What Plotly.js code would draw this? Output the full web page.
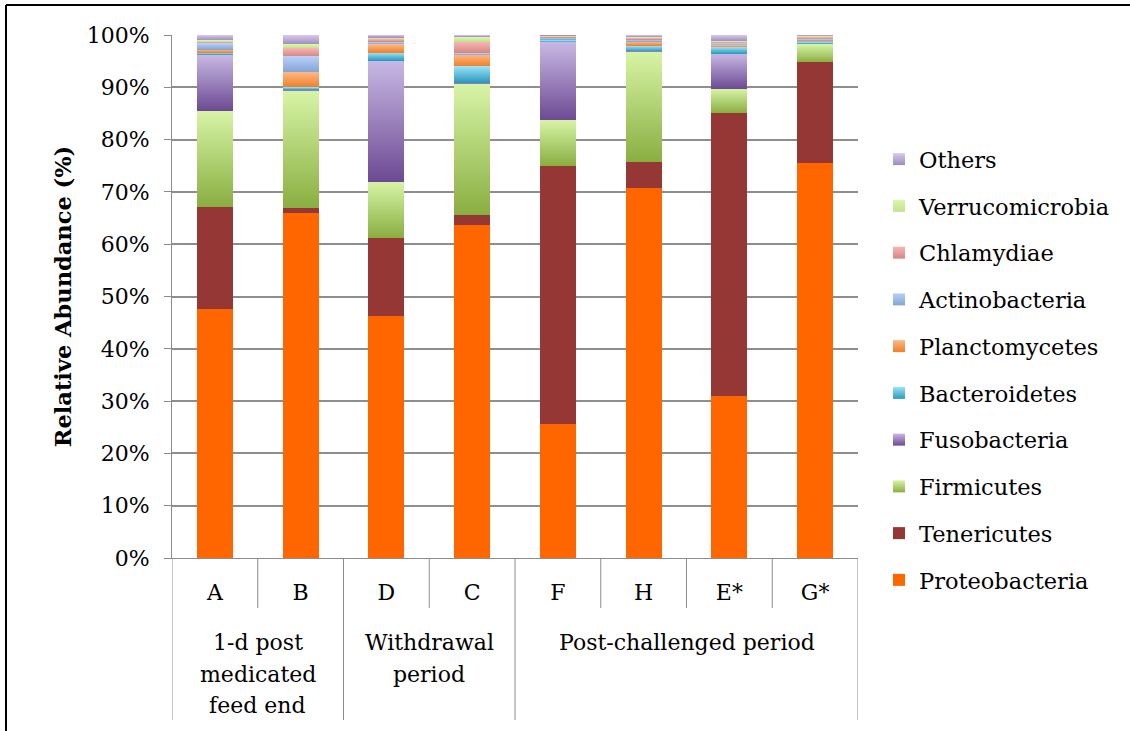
<!DOCTYPE html>
<html>
<head>
<meta charset="utf-8">
<script src="https://cdn.plot.ly/plotly-3.0.1.min.js"></script>
<style>
  html, body { margin: 0; padding: 0; background: #ffffff; }
  #chart { width: 1130px; height: 731px; }
</style>
</head>
<body>
<div id="chart"></div>
<script>
// Samples in plotting order
const samples = ['A', 'B', 'D', 'C', 'F', 'H', 'E*', 'G*'];

// Relative abundance of each phylum per sample (%)
const proteobacteria  = [47.6, 66.0, 46.3, 63.7, 25.6, 70.7, 31.0, 75.5];
const tenericutes     = [19.5,  0.9, 14.9,  1.9, 49.4,  5.0, 54.1, 19.3];
const firmicutes      = [18.4, 22.4, 10.7, 25.0,  8.7, 21.1,  4.6,  3.4];
const fusobacteria    = [10.7,  0.2, 23.2,  0.3, 14.9,  0.1,  6.7,  0.1];
const bacteroidetes   = [ 0.4,  0.5,  1.5,  3.1,  0.4,  1.0,  1.3,  0.3];
const planctomycetes  = [ 0.6,  2.9,  1.6,  2.2,  0.1,  0.8,  0.3,  0.3];
const actinobacteria  = [ 1.2,  3.0,  0.5,  0.3,  0.4,  0.4,  0.4,  0.3];
const chlamydiae      = [ 0.3,  1.6,  0.5,  2.2,  0.1,  0.3,  0.3,  0.4];
const verrucomicrobia = [ 0.3,  0.7,  0.3,  0.9,  0.3,  0.2,  0.1,  0.2];
const others          = [ 1.0,  1.8,  0.5,  0.4,  0.2,  0.4,  1.2,  0.3];

// Sampling periods (grouping of the samples on the x axis)
const periodLabels = [['1-d post', 'medicated', 'feed end'], ['Withdrawal', 'period'], ['Post-challenged period']];
const periodMembers = [['A', 'B'], ['D', 'C'], ['F', 'H', 'E*', 'G*']];

// Stack from bottom to top
const series = [
  { name: 'Proteobacteria',  y: proteobacteria,  color: '#FF6600', grad: null },
  { name: 'Tenericutes',     y: tenericutes,     color: '#953735', grad: null },
  { name: 'Firmicutes',      y: firmicutes,      color: '#B2D075', grad: ['#D7F4A6', '#8AAE41'] },
  { name: 'Fusobacteria',    y: fusobacteria,    color: '#9A80BA', grad: ['#C8B8E3', '#6C4A93'] },
  { name: 'Bacteroidetes',   y: bacteroidetes,   color: '#5FBCDB', grad: ['#9BE3F8', '#2B98BE'] },
  { name: 'Planctomycetes',  y: planctomycetes,  color: '#F79646', grad: ['#FDB886', '#EF7F27'] },
  { name: 'Actinobacteria',  y: actinobacteria,  color: '#9DB9E7', grad: ['#B7D0F9', '#84A4D4'] },
  { name: 'Chlamydiae',      y: chlamydiae,      color: '#E69C9A', grad: ['#F8B6B4', '#D68583'] },
  { name: 'Verrucomicrobia', y: verrucomicrobia, color: '#D0EDA0', grad: ['#DBF6AD', '#C3E28E'] },
  { name: 'Others',          y: others,          color: '#BBA8D6', grad: ['#D8C9F0', '#9F8CBA'] }
];

const FONT = 'DejaVu Serif, Liberation Serif, serif';
const FS = 22;

const traces = series.map((s, i) => ({
  type: 'bar',
  name: s.name,
  x: samples,
  y: s.y,
  legendgroup: 'g' + i,
  legendrank: series.length - i,   // top of the stack listed first
  marker: { color: s.color, line: { width: 0 } },
  hoverinfo: 'x+y+name'
}));

// Plot area geometry (pixels) used for the decorations around the axis
const W = 1130, H = 731;
const M = { l: 172, r: 272, t: 35, b: 173 };
const plotW = W - M.l - M.r, plotH = H - M.t - M.b;
const px2x = p => (p - M.l) / plotW;      // page x -> paper x
const py2y = p => (H - M.b - p) / plotH;  // page y -> paper y

const shapes = [];
const annotations = [];
const idx = name => samples.indexOf(name);

// Category dividers below the axis: short ones inside a period, long ones between periods
const periodEdges = new Set([-0.5]);
periodMembers.forEach(m => periodEdges.add(idx(m[m.length - 1]) + 0.5));
for (let k = -0.5; k <= samples.length - 0.5; k += 1) {
  const isPeriod = periodEdges.has(k);
  shapes.push({
    type: 'line', xref: 'x', yref: 'paper',
    x0: k, x1: k, y0: 0, y1: isPeriod ? py2y(720) : py2y(608),
    line: { color: '#8c8c8c', width: 1 }
  });
}

// Period labels centred under their samples
periodLabels.forEach((lines, g) => {
  const m = periodMembers[g];
  const cx = (idx(m[0]) + idx(m[m.length - 1])) / 2;
  lines.forEach((t, j) => {
    annotations.push({
      xref: 'x', yref: 'paper', x: cx, y: py2y(643 + j * 31),
      text: t, showarrow: false, xanchor: 'center', yanchor: 'middle',
      font: { family: FONT, size: FS, color: '#000000' }
    });
  });
});

// Frame lines at the top and left of the figure
shapes.push({ type: 'line', xref: 'paper', yref: 'paper', x0: px2x(6), x1: px2x(1140), y0: py2y(5), y1: py2y(5), line: { color: '#000000', width: 2 } });
shapes.push({ type: 'line', xref: 'paper', yref: 'paper', x0: px2x(6), x1: px2x(6), y0: py2y(5), y1: py2y(745), line: { color: '#000000', width: 2 } });

const layout = {
  width: W, height: H,
  margin: M,
  paper_bgcolor: '#ffffff', plot_bgcolor: '#ffffff',
  barmode: 'stack',
  bargap: 0.58,
  font: { family: FONT, size: FS, color: '#000000' },
  xaxis: {
    type: 'category', categoryorder: 'array', categoryarray: samples,
    range: [-0.5, samples.length - 0.5],
    showline: true, linecolor: '#8c8c8c', linewidth: 1,
    ticks: '', showgrid: false, zeroline: false,
    ticklabelstandoff: 15,
    tickfont: { family: FONT, size: FS, color: '#000000' }
  },
  yaxis: {
    range: [0, 100], dtick: 10, ticksuffix: '%',
    showgrid: true, gridcolor: '#8e8e8e', gridwidth: 2,
    showline: true, linecolor: '#8c8c8c', linewidth: 1,
    ticks: 'outside', ticklen: 7, tickcolor: '#8c8c8c',
    zeroline: false,
    ticklabelstandoff: 10,
    tickfont: { family: FONT, size: FS, color: '#000000' },
    title: { text: '<b>Relative Abundance (%)</b>', standoff: 8, font: { family: FONT, size: 22.5, color: '#000000' } }
  },
  legend: {
    traceorder: 'grouped', tracegroupgap: 14.5,
    x: px2x(879), xanchor: 'left', y: py2y(138), yanchor: 'top',
    font: { family: FONT, size: 22.5, color: '#000000' },
    bgcolor: 'rgba(0,0,0,0)'
  },
  shapes: shapes,
  annotations: annotations,
  showlegend: true
};

Plotly.newPlot('chart', traces, layout, { displayModeBar: false, staticPlot: true }).then(gd => {
  // Vertical gradient fills for the shaded phyla
  const svg = gd.querySelector('svg.main-svg');
  const ns = 'http://www.w3.org/2000/svg';
  let defs = svg.querySelector('defs');
  if (!defs) { defs = document.createElementNS(ns, 'defs'); svg.insertBefore(defs, svg.firstChild); }
  series.forEach((s, i) => {
    if (!s.grad) return;
    const lg = document.createElementNS(ns, 'linearGradient');
    lg.setAttribute('id', 'phylum-grad-' + i);
    lg.setAttribute('x1', '0'); lg.setAttribute('y1', '0');
    lg.setAttribute('x2', '0'); lg.setAttribute('y2', '1');
    [[0, s.grad[0]], [1, s.grad[1]]].forEach(([o, c]) => {
      const st = document.createElementNS(ns, 'stop');
      st.setAttribute('offset', o);
      st.setAttribute('stop-color', c);
      lg.appendChild(st);
    });
    defs.appendChild(lg);
  });
  gd.querySelectorAll('.barlayer .trace').forEach((tr, i) => {
    if (!series[i] || !series[i].grad) return;
    tr.querySelectorAll('path').forEach(p => { p.style.fill = 'url(#phylum-grad-' + i + ')'; });
  });
  gd.querySelectorAll('.legend .traces').forEach(el => {
    const d = el.__data__;
    const i = d && d[0] && d[0].trace ? d[0].trace.index : -1;
    if (i < 0 || !series[i].grad) return;
    el.querySelectorAll('.legendpoints path').forEach(p => { p.style.fill = 'url(#phylum-grad-' + i + ')'; });
  });
});
</script>
</body>
</html>
